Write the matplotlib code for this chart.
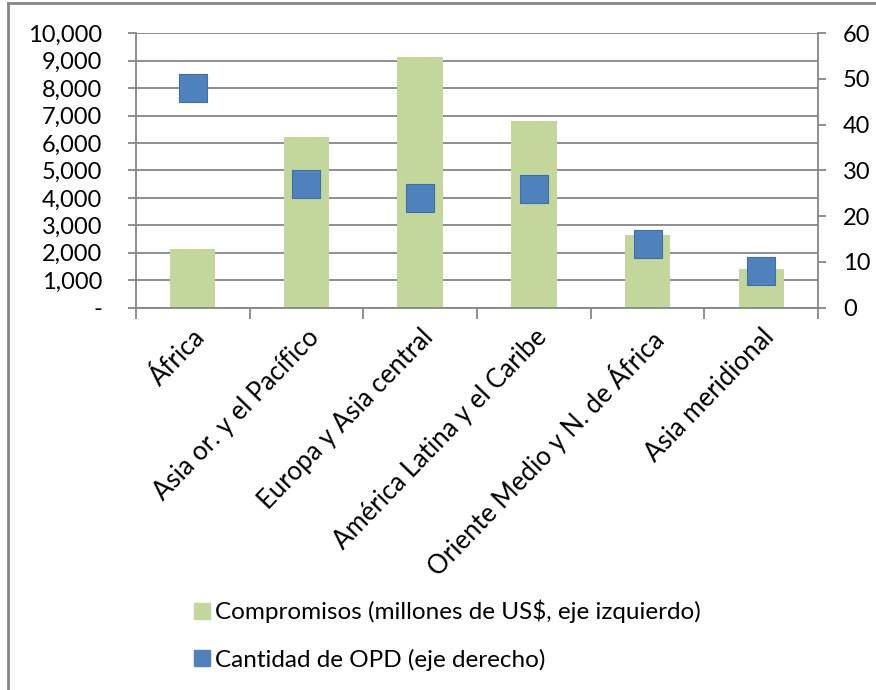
import matplotlib
matplotlib.use('Agg')
import matplotlib.pyplot as plt
from matplotlib.lines import Line2D
import numpy as np

plt.rcParams['font.family'] = ['Lato', 'DejaVu Sans']

# ===================== DATA =====================
regiones = ['África', 'Asia or. y el Pacífico', 'Europa y Asia central',
            'América Latina y el Caribe', 'Oriente Medio y N. de África',
            'Asia meridional']
compromisos = [2150, 6200, 9130, 6800, 2650, 1400]   # millones de US$
cantidad_opd = [48, 27, 24, 26, 14, 8]

bar_color = '#C3D69B'
mark_color = '#4F81BD'
grid_color = '#868686'

fig = plt.figure(figsize=(8.76, 6.9), dpi=100)
ax = fig.add_axes([0.155, 0.554, 0.779, 0.398])
ax2 = ax.twinx()

x = np.arange(len(regiones))
ax.bar(x, compromisos, width=0.4, color=bar_color, zorder=2)
ax2.scatter(x, cantidad_opd, marker='s', s=410, color=mark_color,
            edgecolor='#3F6FA8', linewidth=0.8, zorder=3)

# -------- left axis --------
ax.set_xlim(-0.5, len(regiones) - 0.5)
ax.set_ylim(0, 10000)
ax.set_yticks(np.arange(0, 10001, 1000))
ax.set_yticklabels(['-'] + [f'{v:,}' for v in range(1000, 10001, 1000)])
ax.yaxis.grid(True, color=grid_color, linewidth=1.3, zorder=0)
ax.set_axisbelow(True)

# -------- right axis --------
ax2.set_ylim(0, 60)
ax2.set_yticks(np.arange(0, 61, 10))

# -------- x ticks at category boundaries --------
ax.set_xticks(np.arange(-0.5, len(regiones), 1.0))
ax.set_xticklabels([])
ax.set_xticks(x, minor=True)
ax.set_xticklabels(regiones, minor=True, rotation=46, ha='right', va='top',
                   rotation_mode='anchor', fontsize=18.5)
ax.tick_params(axis='x', which='minor', length=0, pad=12)
ax.tick_params(axis='x', which='major', length=8, width=1.3, color=grid_color)
ax.tick_params(axis='y', length=6, width=1.3, color=grid_color, labelsize=17, pad=18)
ax2.tick_params(axis='y', length=6, width=1.3, color=grid_color, labelsize=17, pad=12)

for a in (ax, ax2):
    for side in ('top', 'right', 'left', 'bottom'):
        a.spines[side].set_visible(False)
ax.spines['left'].set_visible(True)
ax.spines['bottom'].set_visible(True)
ax2.spines['right'].set_visible(True)
for sp in (ax.spines['left'], ax.spines['bottom'], ax2.spines['right']):
    sp.set_color(grid_color)
    sp.set_linewidth(1.3)

# -------- legend --------
handles = [Line2D([], [], marker='s', linestyle='none', markersize=11,
                  markerfacecolor=bar_color, markeredgecolor=bar_color),
           Line2D([], [], marker='s', linestyle='none', markersize=11,
                  markerfacecolor=mark_color, markeredgecolor=mark_color)]
fig.legend(handles, ['Compromisos (millones de US$, eje izquierdo)',
                     'Cantidad de OPD (eje derecho)'],
           loc='upper left', bbox_to_anchor=(0.207, 0.145), frameon=False,
           fontsize=17.5, handletextpad=0.1, labelspacing=1.05,
           handlelength=0.9, borderaxespad=0)

# outer chart border (left and top only)
fig.add_artist(Line2D([8 / 876, 8 / 876], [0, 1 - 3 / 690], transform=fig.transFigure,
                      color=grid_color, linewidth=2))
fig.add_artist(Line2D([8 / 876, 1], [1 - 3 / 690, 1 - 3 / 690], transform=fig.transFigure,
                      color=grid_color, linewidth=2))

fig.savefig('out.png', dpi=100)
